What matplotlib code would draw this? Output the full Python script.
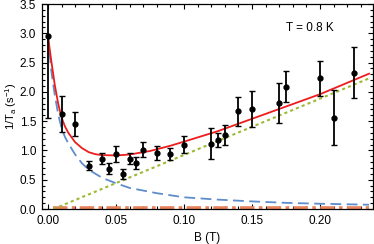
import numpy as np
import matplotlib.pyplot as plt
from matplotlib.ticker import MultipleLocator

plt.rcParams['font.family'] = ['Liberation Sans', 'DejaVu Sans']
plt.rcParams['mathtext.fontset'] = 'custom'
plt.rcParams['mathtext.rm'] = 'Liberation Sans'
plt.rcParams['mathtext.it'] = 'Liberation Sans'

# measured points
b_data = [0.0, 0.01, 0.02, 0.03, 0.04, 0.045, 0.05, 0.055, 0.06, 0.065, 0.07,
          0.08, 0.09, 0.10, 0.12, 0.125, 0.13, 0.14, 0.15, 0.17, 0.175, 0.20,
          0.21, 0.225]
rate = [2.95, 1.62, 1.45, 0.74, 0.86, 0.69, 0.94, 0.60, 0.86, 0.79, 1.01,
        0.95, 0.94, 1.10, 1.115, 1.18, 1.26, 1.67, 1.71, 1.81, 2.09, 2.23,
        1.56, 2.33]
rate_err = [1.40, 0.31, 0.21, 0.08, 0.09, 0.09, 0.14, 0.08, 0.10, 0.10, 0.13,
            0.12, 0.11, 0.15, 0.26, 0.12, 0.17, 0.25, 0.31, 0.34, 0.26, 0.30,
            0.47, 0.44]

# model curves
b_blue = [0.0, 0.0025, 0.005, 0.0075, 0.01, 0.0125, 0.015, 0.02, 0.025, 0.03,
          0.04, 0.05, 0.06, 0.08, 0.10, 0.125, 0.15, 0.175, 0.20, 0.236]
blue = [2.95, 2.35, 1.95, 1.62, 1.38, 1.23, 1.12, 0.93, 0.78, 0.67,
        0.53, 0.44, 0.36, 0.27, 0.20, 0.16, 0.13, 0.105, 0.09, 0.073]

b_red = [0.0, 0.0025, 0.005, 0.0075, 0.01, 0.0125, 0.015, 0.02, 0.025, 0.03,
         0.035, 0.04, 0.05, 0.06, 0.075, 0.09, 0.10, 0.125, 0.15, 0.175,
         0.20, 0.236]
red = [2.95, 2.52, 2.12, 1.80, 1.56, 1.41, 1.30, 1.14, 1.04, 0.97,
       0.935, 0.92, 0.915, 0.93, 0.99, 1.08, 1.15, 1.33, 1.54, 1.75,
       1.96, 2.31]

b_green = [0.004, 0.236]
green = [0.0, 2.23]

b_orange = [0.004, 0.236]
orange = [0.025, 0.025]

fig = plt.figure(figsize=(3.74, 2.44), dpi=100)
ax = fig.add_axes([0.1115, 0.1434, 0.885, 0.8402])

ax.plot(b_orange, orange, color='#e8825a', lw=2.6, ls=(0, (4, 1.2, 1, 1.2)),
        clip_on=False)
ax.plot(b_green, green, color='#9cba34', lw=1.5, ls=(0, (1.5, 1.5)))
ax.plot(b_blue, blue, color='#5f8ccb', lw=1.3, ls=(0, (6, 3)))
ax.plot(b_red, red, color='#ee1c1c', lw=1.3)
ax.errorbar(b_data, rate, yerr=rate_err, fmt='o', color='black', ms=3.5,
            elinewidth=1.3, capsize=2, capthick=1, zorder=5)

ax.set_xlim(-0.0046, 0.2387)
ax.set_ylim(0, 3.5)
ax.xaxis.set_major_locator(MultipleLocator(0.05))
ax.xaxis.set_minor_locator(MultipleLocator(0.01))
ax.yaxis.set_major_locator(MultipleLocator(0.5))
ax.yaxis.set_minor_locator(MultipleLocator(0.1))
ax.xaxis.set_major_formatter(plt.FuncFormatter(lambda v, p: f'{v:.2f}'))
ax.yaxis.set_major_formatter(plt.FuncFormatter(lambda v, p: f'{v:.1f}'))
ax.tick_params(which='both', direction='in', top=True, right=True,
               labelsize=8.5, width=0.8)
ax.tick_params(which='major', length=3.5, pad=4)
ax.tick_params(which='minor', length=2)
for s in ax.spines.values():
    s.set_linewidth(0.9)

ax.set_xlabel('B (T)', fontsize=8.5, labelpad=4)
ax.set_ylabel('1/T$_a$ (s$^{-1}$)', fontsize=8)
ax.yaxis.set_label_coords(-0.07, 0.5)
ax.text(0.81, 0.883, 'T = 0.8 K', transform=ax.transAxes, fontsize=8.5,
        ha='center', va='center')

fig.savefig('out.png', dpi=100)
